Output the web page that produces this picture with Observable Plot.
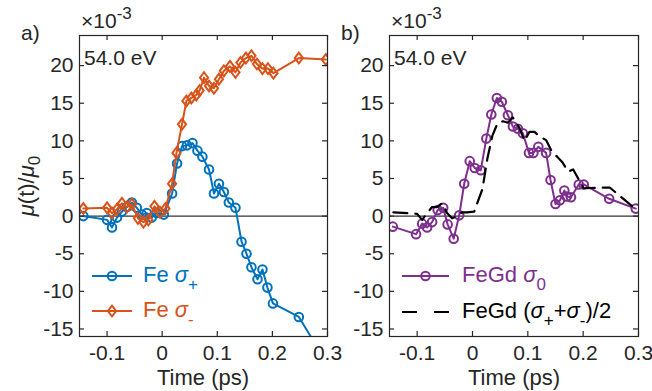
<!DOCTYPE html>
<html><head><meta charset="utf-8">
<script src="https://cdn.jsdelivr.net/npm/d3@7"></script>
<script src="https://cdn.jsdelivr.net/npm/@observablehq/plot@0.6"></script>
<style>
body{margin:0;background:#fff;font-family:"Liberation Sans",Arial,sans-serif;}
#wrap{position:relative;width:652px;height:391px;overflow:hidden;background:#fff}
#wrap svg{position:absolute;top:0}
</style></head><body><div id="wrap"></div>
<script>
// ---- data (x 1e-3) ----
const timePlus = [-0.143,-0.100,-0.091,-0.082,-0.073,-0.064,-0.055,-0.046,-0.037,-0.028,-0.019,-0.010,0.003,0.018,0.027,0.036,0.045,0.055,0.064,0.073,0.085,0.094,0.103,0.112,0.121,0.133,0.144,0.153,0.162,0.173,0.182,0.191,0.201,0.248,0.297];
const sigmaPlus = [0.0,-0.5,-1.5,-0.2,0.6,1.2,1.8,1.1,0.2,0.4,-0.2,0.4,0.2,3.0,7.0,9.3,9.4,9.7,8.7,7.9,6.2,3.0,4.3,3.2,1.8,1.1,-3.4,-5.0,-6.8,-8.4,-7.1,-9.5,-11.6,-13.4,-19.3];
const timeMinus = [-0.143,-0.100,-0.091,-0.082,-0.073,-0.064,-0.055,-0.044,-0.034,-0.025,-0.014,-0.004,0.006,0.018,0.026,0.036,0.044,0.053,0.062,0.068,0.076,0.085,0.094,0.103,0.112,0.123,0.133,0.142,0.152,0.162,0.172,0.182,0.192,0.202,0.248,0.297];
const sigmaMinus = [1.0,1.1,0.4,0.9,1.7,1.2,1.6,-0.3,-0.8,-0.5,1.3,0.5,1.0,4.3,8.4,12.2,15.3,15.7,16.1,16.7,18.4,17.3,17.0,18.2,19.3,19.9,19.1,20.4,21.0,21.3,20.2,19.6,19.6,19.0,21.0,20.8];
const timeZero = [-0.144,-0.102,-0.091,-0.082,-0.073,-0.063,-0.053,-0.045,-0.034,-0.024,-0.015,-0.005,0.004,0.015,0.025,0.034,0.044,0.053,0.064,0.073,0.082,0.091,0.102,0.110,0.119,0.133,0.141,0.150,0.158,0.166,0.170,0.178,0.192,0.201,0.247,0.295];
const sigmaZero = [-1.4,-2.4,-1.0,-1.5,-0.8,0.8,1.1,-1.1,-3.0,0.1,4.3,7.3,6.4,6.1,10.3,13.5,15.7,15.2,13.4,11.9,11.6,11.0,8.4,8.4,9.2,8.4,4.8,1.6,2.1,3.4,2.6,2.5,4.2,4.2,2.3,1.0];
const timeAvg = [-0.143,-0.100,-0.091,-0.082,-0.073,-0.064,-0.055,-0.046,-0.037,-0.028,-0.019,-0.010,0.003,0.018,0.027,0.036,0.045,0.055,0.064,0.073,0.085,0.094,0.103,0.112,0.121,0.133,0.144,0.153,0.162,0.173,0.182,0.191,0.201,0.248,0.297];
const sigmaAvg = [0.5,0.3,-0.5,0.4,1.2,1.2,1.7,0.4,-0.3,0.0,0.5,0.5,0.6,3.6,7.7,10.7,12.3,12.6,12.4,13.1,11.7,10.0,11.2,11.2,10.6,10.1,8.5,7.9,7.2,5.9,6.2,5.0,3.7,3.8,0.8];
const xTicks = [-0.1,0,0.1,0.2,0.3];
const yTicks = [-15,-10,-5,0,5,10,15,20];

const zip = (t,v) => t.map((x,i)=>({t:x, v:v[i]}));
const dPlus = zip(timePlus, sigmaPlus), dMinus = zip(timeMinus, sigmaMinus);
const dZero = zip(timeZero, sigmaZero), dAvg = zip(timeAvg, sigmaAvg);

const BLUE="#0072BD", ORANGE="#D95319", PURPLE="#7E2F8E", AX="#262626";
const FONT='"Liberation Sans",Arial,sans-serif';
const diamond = {draw(ctx, size){ const r=Math.sqrt(size/Math.PI); const w=r*0.95, h=r*1.25;
  ctx.moveTo(0,-h); ctx.lineTo(w,0); ctx.lineTo(0,h); ctx.lineTo(-w,0); ctx.closePath(); }};

const H=391, MT=35, MB=55, TF=21;
function panel(width, ml, mr, series){
  const iw = width-ml-mr, ih = H-MT-MB;
  return Plot.plot({
    width, height:H, marginLeft:ml, marginRight:mr, marginTop:MT, marginBottom:MB,
    style:{fontFamily:FONT, fontSize:TF+"px", color:AX, background:"transparent", overflow:"visible"},
    x:{domain:[-0.15,0.3]}, y:{domain:[-16,24]},
    marks:[
      Plot.ruleY([0],{stroke:"#000", strokeWidth:1}),
      ...series,
      Plot.frame({stroke:AX, strokeWidth:1.2}),
      Plot.tickX(xTicks,{x:d=>d, insetTop:ih-5, stroke:AX, strokeWidth:1.2}),
      Plot.tickX(xTicks,{x:d=>d, insetBottom:ih-5, stroke:AX, strokeWidth:1.2}),
      Plot.tickY(yTicks,{y:d=>d, insetRight:iw-5, stroke:AX, strokeWidth:1.2}),
      Plot.tickY(yTicks,{y:d=>d, insetLeft:iw-5, stroke:AX, strokeWidth:1.2}),
      Plot.axisX({ticks:xTicks, tickSize:0, tickPadding:9, tickFormat:d=>String(d), label:null, fontSize:TF, fill:AX}),
      Plot.axisY({ticks:yTicks, tickSize:0, tickPadding:6, tickFormat:d=>String(d), label:null, fontSize:TF, fill:AX})
    ]
  });
}
const left = panel(340, 79, 13, [
  Plot.line(dPlus,{x:"t", y:"v", stroke:BLUE, strokeWidth:2, clip:true}),
  Plot.dot(dPlus,{x:"t", y:"v", r:4.3, stroke:BLUE, strokeWidth:2, fill:"none", clip:true}),
  Plot.line(dMinus,{x:"t", y:"v", stroke:ORANGE, strokeWidth:2, clip:true}),
  Plot.dot(dMinus,{x:"t", y:"v", r:4.3, symbol:diamond, stroke:ORANGE, strokeWidth:2, fill:"none", clip:true})
]);
const right = panel(312, 49, 14, [
  Plot.line(dZero,{x:"t", y:"v", stroke:PURPLE, strokeWidth:2, clip:true}),
  Plot.dot(dZero,{x:"t", y:"v", r:4.3, stroke:PURPLE, strokeWidth:2, fill:"none", clip:true}),
  Plot.line(dAvg,{x:"t", y:"v", stroke:"#000", strokeWidth:2.2, strokeDasharray:"14,8", clip:true})
]);
const wrap = document.getElementById("wrap");
left.style.left="0px"; right.style.left="340px";
wrap.appendChild(left); wrap.appendChild(right);

// ---- annotations overlay ----
const ov = d3.select(wrap).append("svg").attr("width",652).attr("height",391)
  .style("left","0px").style("font-family",FONT).style("pointer-events","none");
function txt(x,y,parts,opts={}){
  const t = ov.append("text").attr("x",x).attr("y",y).attr("font-size",opts.size||21)
    .attr("fill",opts.fill||AX);
  if(opts.anchor) t.attr("text-anchor",opts.anchor);
  if(opts.transform) t.attr("transform",opts.transform);
  parts.forEach(p=>{
    if(typeof p==="string"){ t.append("tspan").text(p); return; }
    const s=t.append("tspan").text(p.s);
    if(p.i) s.attr("font-style","italic");
    if(p.dy) s.attr("dy",p.dy);
    if(p.fs) s.attr("font-size",p.fs);
  });
  return t;
}
// panel letters
txt(21,40,["a)"]); txt(341,40,["b)"]);
// exponent
[81,391].forEach(x=>{ txt(x,28,["×10",{s:"-3",dy:-9,fs:17}],{size:21}); });
// energy labels
txt(84,65,["54.0 eV"]); txt(394,65,["54.0 eV"]);
// x labels
txt(203,385,["Time (ps)"],{anchor:"middle",size:22});
txt(514,385,["Time (ps)"],{anchor:"middle",size:22});
// y label
txt(0,0,[{s:"μ",i:true},"(t)/",{s:"μ",i:true},{s:"0",dy:6,fs:17}],{anchor:"middle",size:22,transform:"translate(34,186) rotate(-90)"});

// legends
function sample(x1,x2,y,color,sym,dash){
  const l=ov.append("line").attr("x1",x1).attr("x2",x2).attr("y1",y).attr("y2",y)
    .attr("stroke",color).attr("stroke-width",dash?2.2:2);
  if(dash) l.attr("stroke-dasharray",dash);
  const cx=(x1+x2)/2;
  if(sym==="circle") ov.append("circle").attr("cx",cx).attr("cy",y).attr("r",4.3)
    .attr("fill","none").attr("stroke",color).attr("stroke-width",2);
  if(sym==="diamond") ov.append("path").attr("transform",`translate(${cx},${y})`)
    .attr("d",d3.symbol(diamond, 4.3*4.3*Math.PI)()).attr("fill","none").attr("stroke",color).attr("stroke-width",2);
}
sample(92,132,276,BLUE,"circle");
txt(143,282,["Fe ",{s:"σ",i:true},{s:"+",dy:8,fs:17}],{fill:BLUE,size:22});
sample(92,132,311,ORANGE,"diamond");
txt(143,317,["Fe ",{s:"σ",i:true},{s:"-",dy:8,fs:17}],{fill:ORANGE,size:22});
sample(402,449,276,PURPLE,"circle");
txt(462,282,["FeGd ",{s:"σ",i:true},{s:"0",dy:8,fs:17}],{fill:PURPLE,size:22});
sample(402,449,312,"#000",null,"15,17");
txt(462,318,["FeGd (",{s:"σ",i:true},{s:"+",dy:8,fs:17},{s:"+",dy:-8},{s:"σ",i:true},{s:"-",dy:8,fs:17},{s:")/2",dy:-8}],{fill:"#000",size:22});
</script></body></html>
